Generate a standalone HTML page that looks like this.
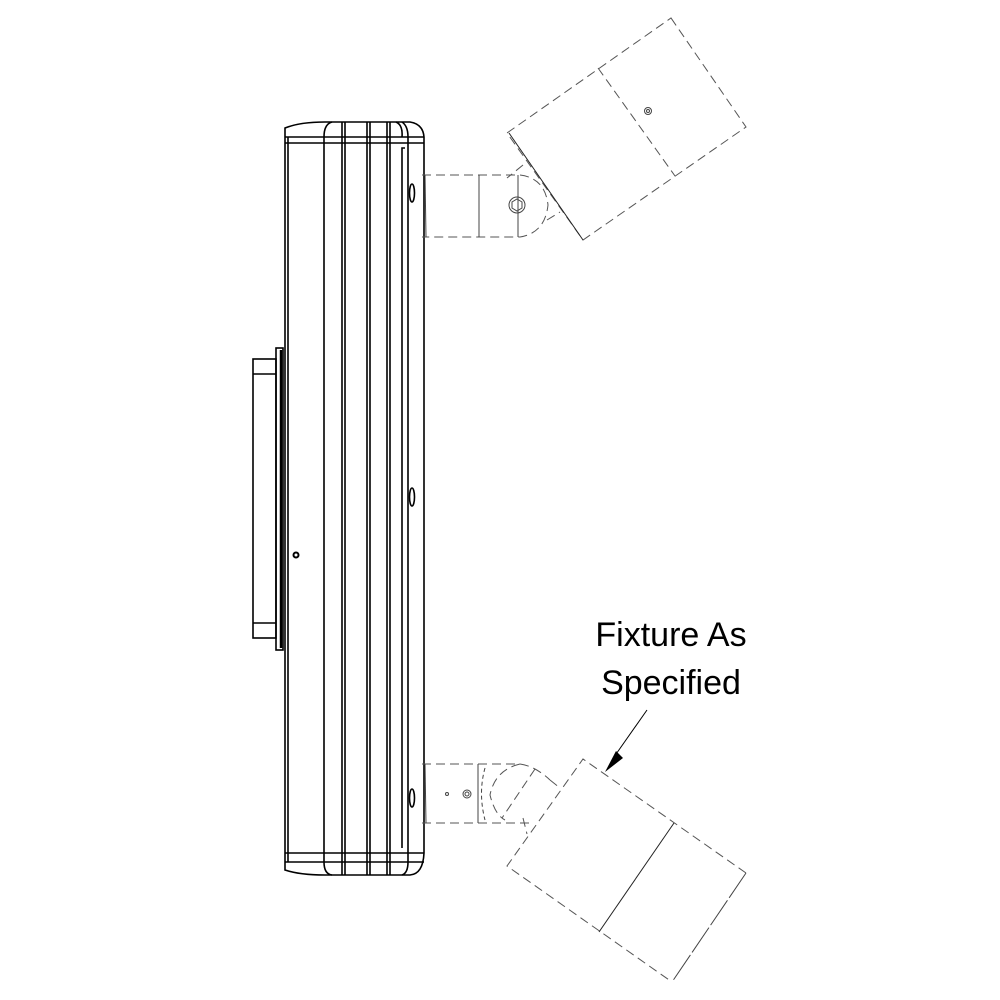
<!DOCTYPE html>
<html><head><style>body{margin:0;background:#fff}svg{display:block}</style></head><body>
<svg width="1000" height="1000" viewBox="0 0 1000 1000" xmlns="http://www.w3.org/2000/svg">
<g fill="none" stroke="#000" stroke-width="1.6">
<path d="M285,137 L285,128 Q300,122 325,122 L410,122 Q423,124 424,137 L424,853 Q423,874 410,875 L325,875 Q300,875 285,870 L285,853 Z"/>
<line x1="285" y1="137" x2="424" y2="137"/><line x1="285" y1="143" x2="424" y2="143"/>
<line x1="285" y1="853" x2="424" y2="853"/><line x1="285" y1="862" x2="424" y2="862"/>
<line x1="288" y1="137" x2="288" y2="862"/>
<path d="M324,862 L324,137 Q324,124 332,122"/>
<path d="M324,862 Q324,874 332,875"/>
<line x1="342" y1="122" x2="342" y2="875"/><line x1="345" y1="122" x2="345" y2="875"/>
<line x1="367" y1="122" x2="367" y2="875"/><line x1="370" y1="122" x2="370" y2="875"/>
<line x1="387" y1="122" x2="387" y2="875"/><line x1="390" y1="122" x2="390" y2="875"/>
<path d="M402,848 L402,148 L405,148 M402,137 Q403,125 396,122"/>
<path d="M408,862 L408,137 Q408,126 402,122"/>
<path d="M408,862 Q408,873 402,875"/>
<ellipse cx="412" cy="193" rx="2.5" ry="9"/><ellipse cx="412" cy="497" rx="2.5" ry="9"/><ellipse cx="412" cy="798" rx="2.5" ry="9"/>
<rect x="253" y="359" width="23" height="279"/>
<line x1="253" y1="374" x2="276" y2="374"/><line x1="253" y1="623" x2="276" y2="623"/>
<rect x="276" y="348" width="7" height="302"/>
<line x1="281" y1="350" x2="281" y2="648" stroke-width="2.5"/>
<circle cx="296" cy="555" r="2.5" stroke-width="2"/>
</g>
<g fill="none" stroke="#555" stroke-width="1" stroke-dasharray="9,5">
<path d="M422,175 L520,175 Q545,178 548,205 Q545,233 520,237 L422,237"/>
<path d="M671,18 L746,127 L583,240 L507,133 Z"/>
<line x1="598" y1="68" x2="675" y2="176"/>
<line x1="523" y1="165" x2="507" y2="178"/><line x1="547" y1="220" x2="560" y2="212"/>
<path d="M422,764 L520,764 Q535,766 550,780 M422,823 L530,823"/>
<path d="M520,764 Q495,770 490,795 Q495,815 505,820"/>
<path d="M535,769 L502,818"/>
<path d="M550,780 L560,788"/>
<path d="M746,873 L583,759 L507,866 L672,982"/>
<path d="M523,818 L527,834"/>
</g>
<g fill="none" stroke="#444" stroke-width="1">
<line x1="746" y1="873" x2="672" y2="982" stroke-dasharray="30,3"/>
<line x1="479" y1="175" x2="479" y2="237"/>
<line x1="518" y1="175" x2="518" y2="237"/>
<circle cx="517" cy="205" r="8"/>
<path d="M517,199 L522,202 L522,208 L517,211 L512,208 L512,202 Z"/>
<circle cx="648" cy="111" r="3.5"/><circle cx="648" cy="111" r="1.5"/>
<path d="M509,133 L583,240" stroke="#222"/>
<line x1="425" y1="175" x2="426" y2="237"/>
<line x1="425" y1="764" x2="426" y2="823"/>
<line x1="478" y1="764" x2="478" y2="823"/>
<path d="M485,768 Q478,793 485,820" stroke-dasharray="4,3"/>
<circle cx="467" cy="794" r="4"/><circle cx="467" cy="794" r="2"/>
<circle cx="447" cy="794" r="1.5"/>
<line x1="674" y1="823" x2="599" y2="932" stroke="#222"/>
<line x1="647" y1="710" x2="614" y2="757" stroke="#000"/>
</g>
<polygon points="605,772 616,751 623,758" fill="#000"/>
<g font-family="Liberation Sans, sans-serif" font-size="34" fill="#000" text-anchor="middle">
<text x="671" y="646">Fixture As</text>
<text x="671" y="694">Specified</text>
</g>
</svg>
</body></html>
